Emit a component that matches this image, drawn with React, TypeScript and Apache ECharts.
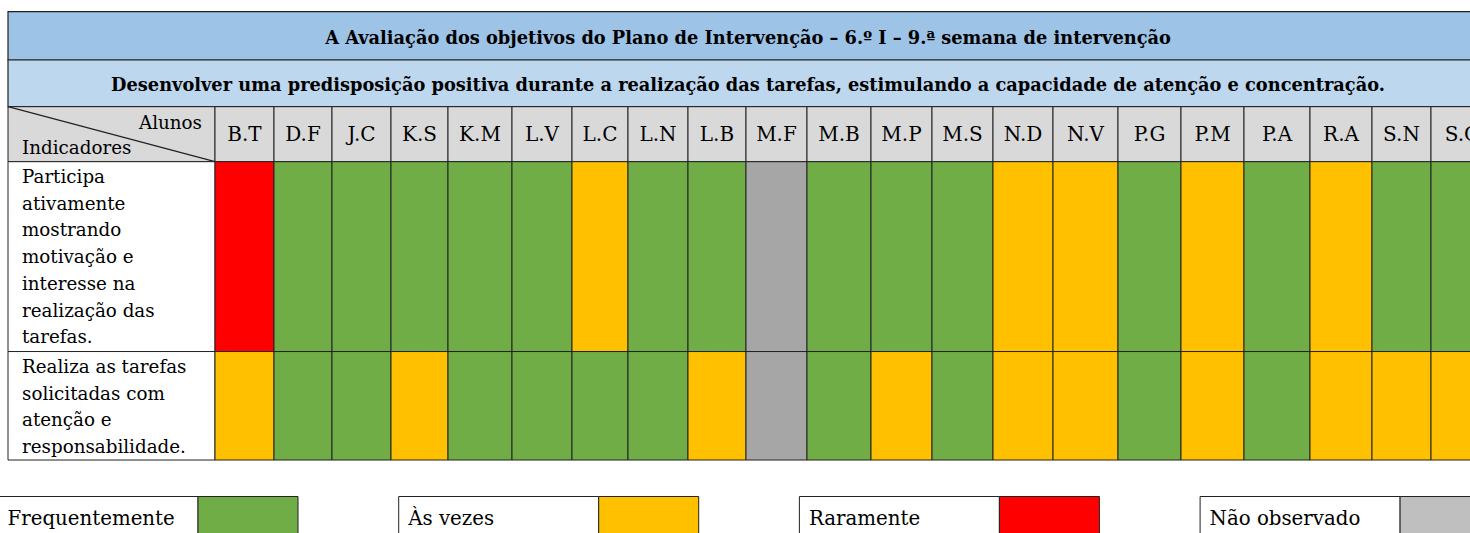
import React, { useEffect, useRef } from "react";
import * as echarts from "echarts";

// ---------- content / data ----------
const TITLE =
  "A Avaliação dos objetivos do Plano de Intervenção – 6.º I – 9.ª semana de intervenção";
const OBJECTIVE =
  "Desenvolver uma predisposição positiva durante a realização das tarefas, estimulando a capacidade de atenção e concentração.";
const CORNER_TOP = "Alunos";
const CORNER_BOTTOM = "Indicadores";

const STUDENTS = [
  "B.T", "D.F", "J.C", "K.S", "K.M", "L.V", "L.C", "L.N", "L.B", "M.F", "M.B",
  "M.P", "M.S", "N.D", "N.V", "P.G", "P.M", "P.A", "R.A", "S.N", "S.C",
];

const INDICATORS = [
  ["Participa", "ativamente", "mostrando", "motivação e", "interesse na", "realização das", "tarefas."],
  ["Realiza as tarefas", "solicitadas com", "atenção e", "responsabilidade."],
];

const LEVELS = ["Frequentemente", "Às vezes", "Raramente", "Não observado"];

const PARTICIPA = [
  "Raramente", "Frequentemente", "Frequentemente", "Frequentemente", "Frequentemente",
  "Frequentemente", "Às vezes", "Frequentemente", "Frequentemente", "Não observado",
  "Frequentemente", "Frequentemente", "Frequentemente", "Às vezes", "Às vezes",
  "Frequentemente", "Às vezes", "Frequentemente", "Às vezes", "Frequentemente",
  "Frequentemente",
];

const REALIZA = [
  "Às vezes", "Frequentemente", "Frequentemente", "Às vezes", "Frequentemente",
  "Frequentemente", "Frequentemente", "Frequentemente", "Às vezes", "Não observado",
  "Frequentemente", "Às vezes", "Frequentemente", "Às vezes", "Às vezes",
  "Frequentemente", "Às vezes", "Frequentemente", "Às vezes", "Às vezes",
  "Às vezes",
];

const RATINGS = [PARTICIPA, REALIZA];

// ---------- styles / layout ----------
const LEVEL_COLORS = ["#70AD47", "#FFC000", "#FF0000", "#A6A6A6"];
const LEGEND_COLORS = ["#70AD47", "#FFC000", "#FF0000", "#BFBFBF"];
const TITLE_BG = ["#9DC3E6", "#BDD7EE"];
const HEADER_BG = "#D9D9D9";
const FAMILY = "DejaVu Serif";

// table column widths (first = indicator column)
const COL_WIDTHS = [207, 59, 58, 59, 57, 64, 60, 56, 60, 58, 61, 64, 61, 61, 60, 65, 63, 63, 66, 62, 59, 62];
const COL_START: number[] = [];
COL_WIDTHS.reduce((acc, w, i) => {
  COL_START[i] = acc;
  return acc + w;
}, 0);
const TABLE_W = COL_WIDTHS.reduce((a, b) => a + b, 0);

const TITLE_ROW_H = [48.3, 46.7];
const HEADER_H = 55;
const LINE_H = 27.12;
const BODY_TOP = TITLE_ROW_H[0] + TITLE_ROW_H[1] + HEADER_H;
const ROW_H = INDICATORS.map((l) => l.length * LINE_H);
const ROW_START: number[] = [];
ROW_H.reduce((acc, h, i) => {
  ROW_START[i] = acc;
  return acc + h;
}, BODY_TOP);
const TABLE_H = BODY_TOP + ROW_H.reduce((a, b) => a + b, 0);

const TABLE_LEFT = 8;
const TABLE_TOP = 11.7;

function cellRect(api: any, x0: number, y0: number, x1: number, y1: number) {
  const p0 = api.coord([x0, y0]);
  const p1 = api.coord([x1, y1]);
  return { x: p0[0], y: p0[1], width: p1[0] - p0[0], height: p1[1] - p0[1] };
}

function txt(text: string, size: number, bold: boolean, align: string, vAlign: string, extra: any = {}) {
  return {
    text,
    fontFamily: FAMILY,
    fontSize: size,
    fontWeight: bold ? "bold" : "normal",
    fill: "#000",
    align,
    verticalAlign: vAlign,
    ...extra,
  };
}

export default function App() {
  const ref = useRef<HTMLDivElement>(null);

  useEffect(() => {
    if (!ref.current) return;
    const chart = echarts.init(ref.current, undefined, { renderer: "svg" });

    const bodyData: number[][] = [];
    RATINGS.forEach((row, r) =>
      row.forEach((lv, c) => bodyData.push([c, r, LEVELS.indexOf(lv)]))
    );

    const legendGraphics: any[] = [];
    LEVELS.forEach((lv, i) => {
      const x0 = -2 + i * 400.7;
      legendGraphics.push({
        type: "rect",
        shape: { x: x0, y: 496.5, width: 200, height: 50 },
        style: { fill: "#fff", stroke: "#222", lineWidth: 1 },
      });
      legendGraphics.push({
        type: "rect",
        shape: { x: x0 + 200, y: 496.5, width: 100, height: 50 },
        style: { fill: LEGEND_COLORS[i], stroke: "#222", lineWidth: 1 },
      });
      legendGraphics.push({
        type: "text",
        x: x0 + 9.5,
        y: 518,
        style: txt(lv, 19.8, false, "left", "middle"),
      });
    });

    chart.setOption({
      animation: false,
      backgroundColor: "#fff",
      grid: {
        left: TABLE_LEFT,
        top: TABLE_TOP,
        width: TABLE_W,
        height: TABLE_H,
        outerBoundsMode: "none",
        containLabel: false,
      },
      xAxis: { type: "value", min: 0, max: TABLE_W, show: false },
      yAxis: { type: "value", min: 0, max: TABLE_H, inverse: true, show: false },
      graphic: legendGraphics,
      series: [
        {
          type: "custom",
          name: "titles",
          data: [[0], [1]],
          renderItem: (params: any, api: any) => {
            const i = api.value(0);
            const y0 = i === 0 ? 0 : TITLE_ROW_H[0];
            const r = cellRect(api, 0, y0, TABLE_W, y0 + TITLE_ROW_H[i]);
            return {
              type: "group",
              children: [
                {
                  type: "rect",
                  shape: r,
                  style: { fill: TITLE_BG[i], stroke: "#222", lineWidth: 1.2 },
                },
                {
                  type: "text",
                  x: r.x + r.width / 2 - 2.5,
                  y: r.y + r.height / 2 + 1.5,
                  style: txt(i === 0 ? TITLE : OBJECTIVE, 17.8, true, "center", "middle"),
                },
              ],
            };
          },
        },
        {
          type: "custom",
          name: "corner",
          data: [[0]],
          renderItem: (params: any, api: any) => {
            const y0 = TITLE_ROW_H[0] + TITLE_ROW_H[1];
            const r = cellRect(api, 0, y0, COL_WIDTHS[0], y0 + HEADER_H);
            return {
              type: "group",
              children: [
                {
                  type: "rect",
                  shape: r,
                  style: { fill: HEADER_BG, stroke: "#222", lineWidth: 1 },
                },
                {
                  type: "line",
                  shape: { x1: r.x, y1: r.y, x2: r.x + r.width, y2: r.y + r.height },
                  style: { stroke: "#222", lineWidth: 1.2 },
                },
                {
                  type: "text",
                  x: r.x + r.width - 13,
                  y: r.y + 16,
                  style: txt(CORNER_TOP, 18.3, false, "right", "middle"),
                },
                {
                  type: "text",
                  x: r.x + 14,
                  y: r.y + 41,
                  style: txt(CORNER_BOTTOM, 18.3, false, "left", "middle"),
                },
              ],
            };
          },
        },
        {
          type: "custom",
          name: "students",
          data: STUDENTS.map((_, i) => [i]),
          renderItem: (params: any, api: any) => {
            const c = api.value(0) + 1;
            const y0 = TITLE_ROW_H[0] + TITLE_ROW_H[1];
            const r = cellRect(api, COL_START[c], y0, COL_START[c] + COL_WIDTHS[c], y0 + HEADER_H);
            return {
              type: "group",
              children: [
                {
                  type: "rect",
                  shape: r,
                  style: { fill: HEADER_BG, stroke: "#222", lineWidth: 1 },
                },
                {
                  type: "text",
                  x: r.x + r.width / 2,
                  y: r.y + r.height / 2,
                  style: txt(STUDENTS[params.dataIndex], 20, false, "center", "middle"),
                },
              ],
            };
          },
        },
        {
          type: "custom",
          name: "indicators",
          data: INDICATORS.map((_, i) => [i]),
          renderItem: (params: any, api: any) => {
            const i = api.value(0);
            const r = cellRect(api, 0, ROW_START[i], COL_WIDTHS[0], ROW_START[i] + ROW_H[i]);
            return {
              type: "group",
              children: [
                {
                  type: "rect",
                  shape: r,
                  style: { fill: "#fff", stroke: "#222", lineWidth: 1 },
                },
                {
                  type: "text",
                  x: r.x + 14,
                  y: r.y + 1.5,
                  style: txt(INDICATORS[i].join("\n"), 18.3, false, "left", "top", { lineHeight: 26.7 }),
                },
              ],
            };
          },
        },
        {
          type: "custom",
          name: "ratings",
          data: bodyData,
          renderItem: (params: any, api: any) => {
            const c = api.value(0) + 1;
            const row = api.value(1);
            const lv = api.value(2);
            const r = cellRect(
              api,
              COL_START[c],
              ROW_START[row],
              COL_START[c] + COL_WIDTHS[c],
              ROW_START[row] + ROW_H[row]
            );
            return {
              type: "rect",
              shape: r,
              style: { fill: LEVEL_COLORS[lv], stroke: "#222", lineWidth: 1 },
            };
          },
        },
      ],
    });

    return () => chart.dispose();
  }, []);

  return (
    <div
      style={{
        position: "fixed",
        left: 0,
        top: 0,
        width: 1470,
        height: 533,
        overflow: "hidden",
        background: "#fff",
      }}
    >
      <div ref={ref} style={{ width: 1470, height: 533 }} />
    </div>
  );
}
